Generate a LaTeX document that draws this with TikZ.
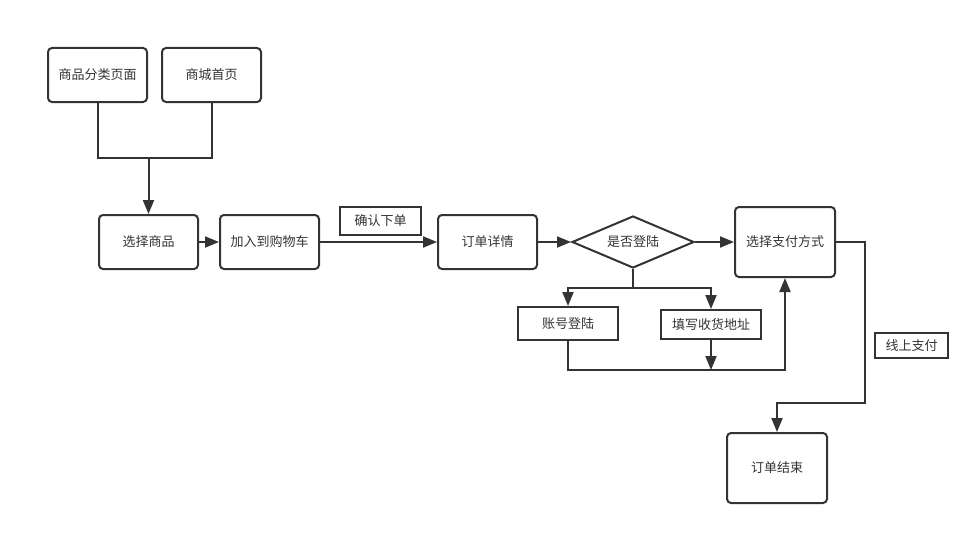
\documentclass[tikz,border=0pt]{standalone}
\usepackage{fontspec}
\usepackage{tikz}
\usetikzlibrary{shapes.geometric,arrows.meta,positioning,calc}
\newfontfamily\cjk{Noto Sans CJK SC}
\definecolor{ink}{HTML}{333333}
\tikzset{
    flow/.style={draw=ink, line width=2pt, -{Triangle[length=14pt,width=11pt]}},
    wire/.style={draw=ink, line width=2pt},
    page/.style={draw=ink, line width=2pt, rounded corners=4pt, minimum width=99pt, minimum height=54pt, text=ink, font=\cjk\fontsize{13}{15}\selectfont},
    tag/.style={draw=ink, line width=2pt, inner sep=0pt, text=ink, font=\cjk\fontsize{13}{15}\selectfont},
    ask/.style={draw=ink, line width=2pt, diamond, aspect=2.35, inner sep=0pt, minimum width=122pt, minimum height=52pt, text=ink, font=\cjk\fontsize{13}{15}\selectfont}
}
\begin{document}
\begin{tikzpicture}[x=1pt,y=1pt]
\useasboundingbox (0,0) rectangle (980,-535);
\node[page] (cat) at (97.5,-75) {商品分类页面};
\node[page] (home) at (211.5,-75) {商城首页};
\node[page] (select) at (148.5,-242) {选择商品};
\node[page] (cart) at (269.5,-242) {加入到购物车};
\node[tag, minimum width=81pt, minimum height=28pt] (confirm) at (380.5,-221) {确认下单};
\node[page] (detail) at (487.5,-242) {订单详情};
\node[ask] (login) at (633,-242) {是否登陆};
\node[page, minimum width=100pt, minimum height=70pt] (pay) at (785,-242) {选择支付方式};
\node[tag, minimum width=100pt, minimum height=33pt] (account) at (568,-323.5) {账号登陆};
\node[tag, minimum width=100pt, minimum height=29pt] (address) at (711,-324.5) {填写收货地址};
\node[tag, minimum width=73pt, minimum height=25pt] (online) at (911.5,-345.5) {线上支付};
\node[page, minimum width=100pt, minimum height=70pt] (finish) at (777,-468) {订单结束};

\coordinate (join) at (148.5,-158);
\coordinate (split) at (633,-288);
\coordinate (merge) at (785,-370);
\coordinate (bend) at (865,-403);

\draw[wire] (cat.south) |- (join) -| (home.south);
\draw[flow] (join) -- (select.north);
\draw[flow] (select) -- (cart);
\draw[flow] (cart) -- (detail);
\draw[flow] (detail) -- (login.west);
\draw[flow] (login.east) -- (pay.west);
\draw[wire] (login.south) -- (split);
\draw[flow] (split) -| (account.north);
\draw[flow] (split) -| (address.north);
\draw[flow] (account.south) |- (merge) -- (pay.south);
\draw[flow] (address.south) -- (address.south |- merge);
\draw[flow] (pay.east) -| (bend) -| (finish.north);
\end{tikzpicture}
\end{document}
